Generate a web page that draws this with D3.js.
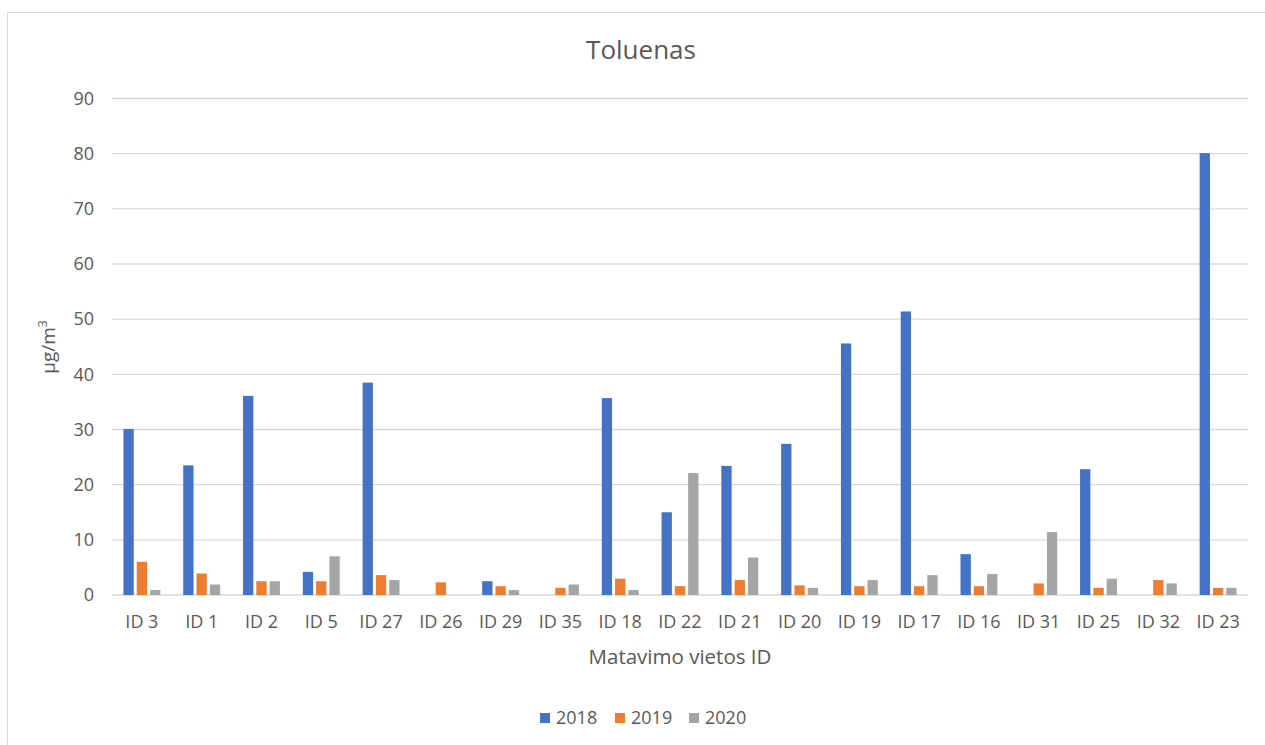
<!DOCTYPE html>
<html>
<head>
<meta charset="utf-8">
<script src="https://cdn.jsdelivr.net/npm/d3@7"></script>
<style>
  html, body { margin: 0; padding: 0; background: #fff; }
  svg { display: block; }
  text { font-family: "Open Sans", Lato, "Liberation Sans", sans-serif; fill: #595959; }
</style>
</head>
<body>
<svg id="chart" width="1265" height="745"></svg>
<script>
const categories = ["ID 3","ID 1","ID 2","ID 5","ID 27","ID 26","ID 29","ID 35","ID 18","ID 22","ID 21","ID 20","ID 19","ID 17","ID 16","ID 31","ID 25","ID 32","ID 23"];
const years = ["2018","2019","2020"];
const values2018 = [30.1, 23.5, 36.1, 4.2, 38.5, null, 2.5, null, 35.7, 15.0, 23.4, 27.4, 45.6, 51.4, 7.4, null, 22.8, null, 80.1];
const values2019 = [6.0, 3.9, 2.5, 2.5, 3.6, 2.3, 1.6, 1.3, 2.95, 1.6, 2.7, 1.75, 1.6, 1.6, 1.6, 2.1, 1.3, 2.7, 1.3];
const values2020 = [0.9, 1.9, 2.5, 7.0, 2.7, null, 0.9, 1.9, 0.9, 22.1, 6.8, 1.3, 2.7, 3.6, 3.8, 11.4, 2.95, 2.1, 1.3];
const yTicks = [0,10,20,30,40,50,60,70,80,90];
const colors = ["#4472C4","#ED7D31","#A5A5A5"];
const title = "Toluenas";
const xTitle = "Matavimo vietos ID";

(function () {
const series = [values2018, values2019, values2020];
const svg = d3.select("#chart");

svg.append("rect").attr("x", 7.5).attr("y", 12.5).attr("width", 1400).attr("height", 900)
  .attr("fill", "none").attr("stroke", "#d9d9d9").attr("stroke-width", 1);

const pLeft = 112, pRight = 1248, pTop = 98.5, pBottom = 595;
const x = d3.scaleBand().domain(categories).range([pLeft, pRight]).paddingInner(0).paddingOuter(0);
const xi = d3.scaleBand().domain(years).range([0, x.bandwidth()]).paddingInner(0.225).paddingOuter(0.86);
const y = d3.scaleLinear().domain([0, 90]).range([pBottom, pTop]);

svg.append("g").selectAll("line").data(yTicks).join("line")
  .attr("x1", pLeft).attr("x2", pRight)
  .attr("y1", d => y(d)).attr("y2", d => y(d))
  .attr("stroke", "#d9d9d9").attr("stroke-width", 1.3);

svg.append("g").selectAll("text").data(yTicks).join("text")
  .attr("x", 94).attr("y", d => y(d)).attr("dy", "0.35em")
  .attr("text-anchor", "end").attr("font-size", 18).text(d => d);

const rows = [];
categories.forEach((c, i) => years.forEach((yr, j) => {
  const v = series[j][i];
  if (v != null) rows.push({c, yr, v, j});
}));
svg.append("g").selectAll("rect").data(rows).join("rect")
  .attr("x", d => x(d.c) + xi(d.yr))
  .attr("width", xi.bandwidth())
  .attr("y", d => y(d.v))
  .attr("height", d => y(0) - y(d.v))
  .attr("fill", d => colors[d.j]);

svg.append("g").selectAll("text").data(categories).join("text")
  .attr("x", d => x(d) + x.bandwidth() / 2).attr("y", 622).attr("dy", "0.35em")
  .attr("text-anchor", "middle").attr("font-size", 18).text(d => d);

svg.append("text").attr("x", 641).attr("y", 50).attr("dy", "0.35em")
  .attr("text-anchor", "middle").attr("font-size", 26).text(title);
svg.append("text").attr("x", 680).attr("y", 657).attr("dy", "0.35em")
  .attr("text-anchor", "middle").attr("font-size", 20.5).text(xTitle);
const yl = svg.append("text").attr("transform", "translate(48,347) rotate(-90)")
  .attr("text-anchor", "middle").attr("dy", "0.35em").attr("font-size", 19);
yl.append("tspan").text("µg/m");
yl.append("tspan").attr("font-size", 12).attr("dy", "-0.6em").text("3");

const legX = [540, 615, 689];
const lg = svg.append("g").selectAll("g").data(years).join("g")
  .attr("transform", (d, i) => `translate(${legX[i]},718)`);
lg.append("rect").attr("x", 0).attr("y", -5).attr("width", 10).attr("height", 10)
  .attr("fill", (d, i) => colors[i]);
lg.append("text").attr("x", 16).attr("y", 0).attr("dy", "0.35em").attr("font-size", 18).text(d => d);
})();
</script>
</body>
</html>
